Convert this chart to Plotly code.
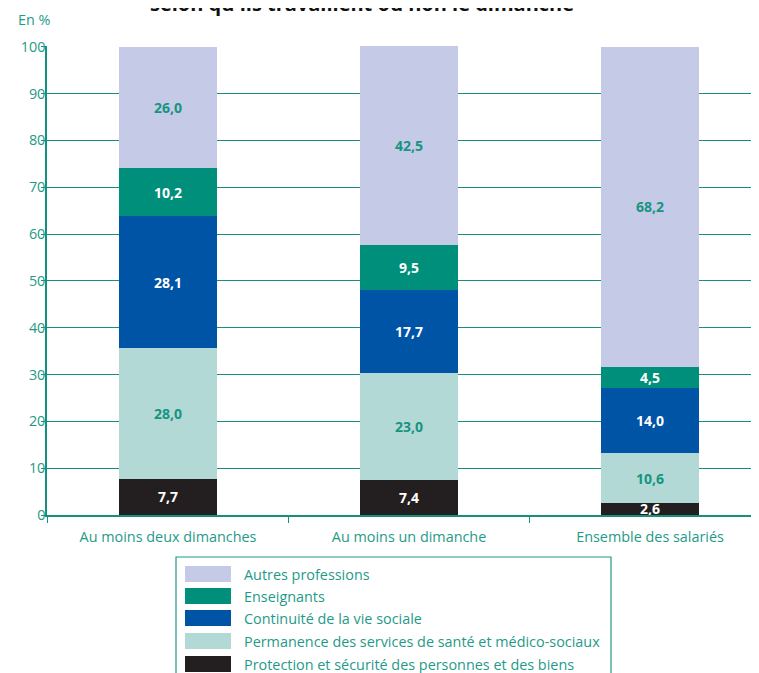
import plotly.graph_objects as go

categories = ["Au moins deux dimanches", "Au moins un dimanche", "Ensemble des salariés"]
series_names = [
    "Protection et sécurité des personnes et des biens",
    "Permanence des services de santé et médico-sociaux",
    "Continuité de la vie sociale",
    "Enseignants",
    "Autres professions",
]
protection = [7.7, 7.4, 2.6]
permanence = [28.0, 23.0, 10.6]
continuite = [28.1, 17.7, 14.0]
enseignants = [10.2, 9.5, 4.5]
autres = [26.0, 42.5, 68.2]
series_values = [protection, permanence, continuite, enseignants, autres]
colors = ["#231f20", "#b3d9d6", "#0054a6", "#008f7a", "#c5cae6"]
label_colors = ["white", "#17947f", "white", "white", "#17947f"]
y_ticks = [0, 10, 20, 30, 40, 50, 60, 70, 80, 90, 100]

TEAL = "#1f9a88"
GRID = "#16907e"
FONT = "Open Sans"
FS = 14.4

fig = go.Figure()
for name, vals, col, lc in zip(series_names, series_values, colors, label_colors):
    fig.add_trace(go.Bar(
        x=categories, y=vals, name=name,
        marker=dict(color=col, line=dict(width=0)),
        width=0.405,
        text=[f"{v:.1f}".replace(".", ",") for v in vals],
        textposition="inside", insidetextanchor="middle",
        textfont=dict(color=lc, size=14, family=FONT, weight="bold"),
        showlegend=False,
        cliponaxis=False,
    ))

# page has an 8px body margin: figure coords = window coords - 8
OFF = 8
W, H = 759, 673
L_win, T_win, R_win, B_win = 47, 46, 759, 515
L, T = L_win - OFF, T_win - OFF
R = W - (R_win - OFF)
B = H - (B_win - OFF)
pw, ph = R_win - L_win, B_win - T_win

def px(x):
    return (x - L_win) / pw

def py(y):
    return (B_win - y) / ph

shapes = []
annotations = []
# legend box
shapes.append(dict(type="rect", xref="paper", yref="paper",
                   x0=px(176), x1=px(611), y0=py(700), y1=py(557),
                   line=dict(color=TEAL, width=1.2), fillcolor="rgba(0,0,0,0)"))
legend_order = list(range(len(series_names)))[::-1]
row_centers = [574, 596, 618, 641, 664]
for rc, i in zip(row_centers, legend_order):
    shapes.append(dict(type="rect", xref="paper", yref="paper",
                       x0=px(185), x1=px(231), y0=py(rc + 8), y1=py(rc - 8),
                       line=dict(width=0), fillcolor=colors[i]))
    annotations.append(dict(xref="paper", yref="paper", x=px(242), y=py(rc),
                            xanchor="left", yanchor="middle", showarrow=False,
                            text=series_names[i],
                            font=dict(color=TEAL, size=FS, family=FONT)))

annotations.append(dict(xref="paper", yref="paper", x=px(16), y=py(20),
                        xanchor="left", yanchor="middle", showarrow=False,
                        text="En %", font=dict(color=TEAL, size=FS, family=FONT)))
annotations.append(dict(xref="paper", yref="paper", x=px(362), y=py(3.5),
                        xanchor="center", yanchor="middle", showarrow=False,
                        text="selon qu'ils travaillent ou non le dimanche",
                        font=dict(color="#111111", size=20, family=FONT, weight="bold")))

fig.update_layout(
    width=W, height=H,
    margin=dict(l=L, r=R, t=T, b=B, pad=0),
    barmode="stack",
    plot_bgcolor="white", paper_bgcolor="white",
    font=dict(family=FONT, color=TEAL, size=FS),
    shapes=shapes, annotations=annotations,
    uniformtext=dict(minsize=14, mode="show"),
    xaxis=dict(range=[-0.502, 2.452], showgrid=False, showline=True,
               linecolor=GRID, linewidth=1.5, ticks="outside", tickson="boundaries",
               ticklen=6, tickcolor=GRID, tickwidth=1.2, ticklabelstandoff=8,
               tickfont=dict(color=TEAL, size=FS, family=FONT)),
    yaxis=dict(range=[0, 100.15], tickvals=y_ticks, showgrid=True, gridcolor=GRID,
               gridwidth=1.3, showline=True, linecolor=GRID, linewidth=1.5,
               ticks="outside", ticklen=4, tickcolor=GRID, tickwidth=1.2,
               zeroline=False, ticklabelstandoff=-7,
               tickfont=dict(color=TEAL, size=FS, family=FONT)),
)

fig.write_html("out.html")
